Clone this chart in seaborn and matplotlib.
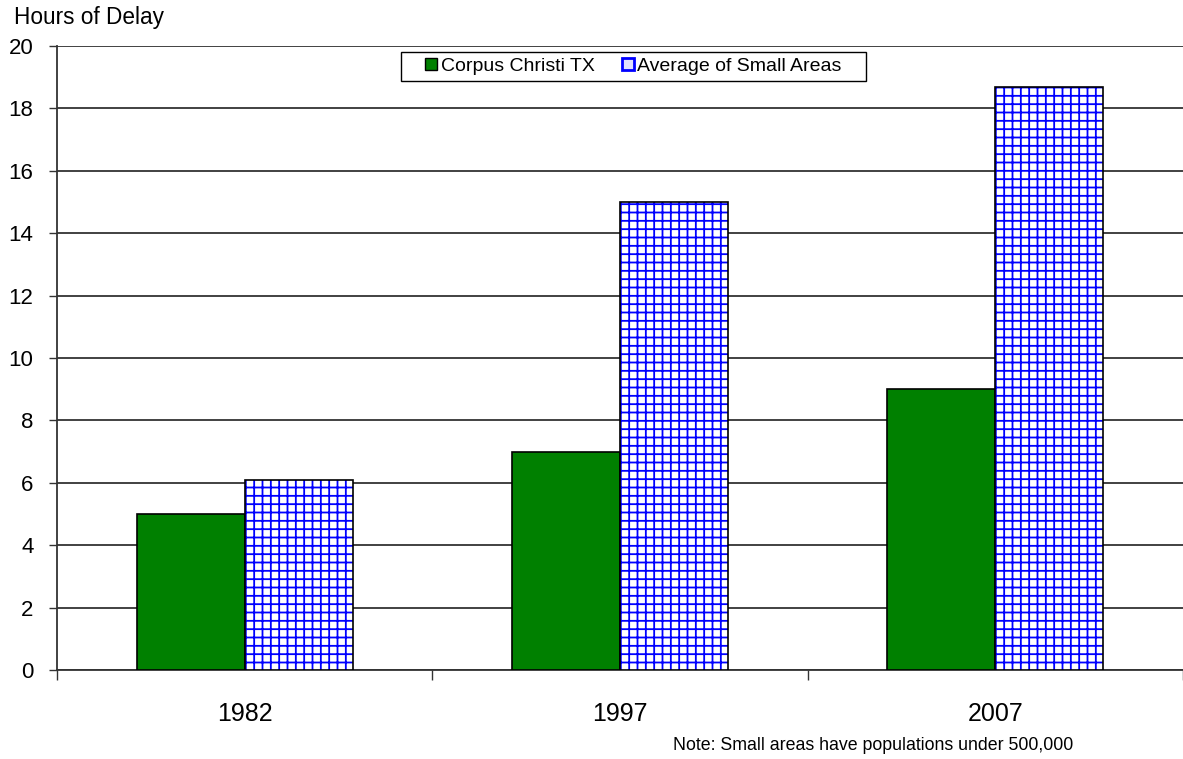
import pandas as pd
import seaborn as sns
import matplotlib.pyplot as plt
from matplotlib.patches import Patch, Rectangle
from matplotlib.transforms import IdentityTransform

years = ['1982', '1997', '2007']
corpus = [5.0, 7.0, 9.0]
small_avg = [6.1, 15.0, 18.7]
series = ['Corpus Christi TX', 'Average of Small Areas']

df = pd.DataFrame({
    'year': years * 2,
    'hours': corpus + small_avg,
    'area': [series[0]] * 3 + [series[1]] * 3,
})

sns.set_style('white')
plt.rcParams['font.family'] = ['Liberation Sans', 'DejaVu Sans']
plt.rcParams['hatch.linewidth'] = 1.3
plt.rcParams['text.color'] = 'black'
plt.rcParams['xtick.color'] = 'black'
plt.rcParams['ytick.color'] = 'black'

fig = plt.figure(figsize=(11.83, 7.59), dpi=100)
ax = fig.add_axes([0.0482, 0.1173, 0.9518, 0.8221])

sns.barplot(data=df, x='year', y='hours', hue='area', order=years,
            hue_order=series, palette=['#008000', 'white'], width=0.575,
            edgecolor='black', linewidth=1.2, saturation=1, legend=False,
            ax=ax, zorder=3)

# hatched grid on the small-area bars, black outline redrawn on top
for bar in ax.patches[3:6]:
    bar.set_edgecolor('blue')
    bar.set_linewidth(0)
    bar.set_hatch('++')
    ax.add_patch(Rectangle(bar.get_xy(), bar.get_width(), bar.get_height(),
                           fill=False, edgecolor='black', linewidth=1.2, zorder=4))

ax.set_ylim(0, 20)
ax.set_xlim(-0.5, 2.487)
ax.set_yticks(range(0, 21, 2))
ax.yaxis.grid(True, color='#333333', linewidth=1.3, zorder=0)
ax.set_axisbelow(True)
for s in ['top', 'right']:
    ax.spines[s].set_visible(False)
ax.spines['left'].set_color('#333333')
ax.spines['bottom'].set_color('#333333')
ax.spines['left'].set_linewidth(1.3)
ax.spines['bottom'].set_linewidth(1.3)

ax.tick_params(axis='y', labelsize=16, length=6, width=1, color='#333333',
               left=True, direction='out', pad=11)
ax.set_xticks([-0.5, 0.5, 1.5, 2.5], minor=True)
ax.tick_params(axis='x', which='minor', length=7, width=1, color='#333333',
               bottom=True, direction='out')
ax.tick_params(axis='x', which='major', length=0, labelsize=18, pad=23)
ax.set_xlabel('')
ax.set_ylabel('')

handles = [Patch(facecolor='#008000', edgecolor='black', linewidth=1),
           Patch(facecolor='#e0e0ff', edgecolor='blue', linewidth=2)]
leg = ax.legend(handles, series, loc='upper center', bbox_to_anchor=(0.512, 0.99),
                ncol=2, fontsize=14, frameon=False,
                handlelength=0.6, handleheight=0.6,
                handletextpad=0.2, columnspacing=1.4, borderpad=0.3,
                borderaxespad=0)
leg.set_zorder(6)

# legend box drawn by hand so it can be wider than the entries
fig.canvas.draw()
bb = leg.get_window_extent()
ax.add_patch(Rectangle((bb.x0 - 18, bb.y0), bb.width + 36, bb.height,
                       transform=IdentityTransform(), facecolor='white',
                       edgecolor='black', linewidth=1, zorder=5))

fig.text(0.012, 0.968, 'Hours of Delay', fontsize=16.3, ha='left', va='baseline')
fig.text(0.569, 0.012, 'Note: Small areas have populations under 500,000',
         fontsize=12.8, ha='left', va='baseline')

fig.savefig('out.png', dpi=100)
